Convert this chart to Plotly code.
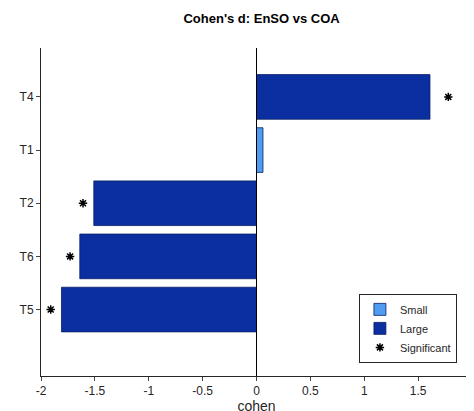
import plotly.graph_objects as go

cats = ["T5", "T6", "T2", "T1", "T4"]
cohen = [-1.81, -1.64, -1.51, 0.06, 1.61]
size = ["Large", "Large", "Large", "Small", "Large"]
sig_pos = [-1.91, -1.73, -1.61, None, 1.78]

ypos = list(range(1, len(cats) + 1))
colors = {"Small": "#4f9cf0", "Large": "#0b2fa0"}

fig = go.Figure()
for s in ["Small", "Large"]:
    ys = [y for y, k in zip(ypos, size) if k == s]
    xs = [c for c, k in zip(cohen, size) if k == s]
    fig.add_trace(go.Bar(
        x=xs, y=ys, orientation="h", width=0.84, name=s,
        marker=dict(color=colors[s], line=dict(color="#0a1f66", width=0.8)),
    ))
sx = [p for p in sig_pos if p is not None]
sy = [y for y, p in zip(ypos, sig_pos) if p is not None]
fig.add_trace(go.Scatter(
    x=sx, y=sy, mode="markers", name="Significant",
    marker=dict(symbol="asterisk-open", size=7, color="black",
                line=dict(color="black", width=1.5)),
))
fig.add_trace(go.Scatter(
    x=[0, 0], y=[-0.25, 5.92], mode="lines", line=dict(color="black", width=1),
    showlegend=False, hoverinfo="skip",
))

fig.update_layout(
    width=474, height=411,
    margin=dict(l=33, r=10, t=40, b=43),
    paper_bgcolor="white", plot_bgcolor="white",
    font=dict(family="Liberation Sans, Arial", size=12, color="#262626"),
    title=dict(text="<b>Cohen's d: EnSO vs COA</b>", x=0.535, xanchor="center",
               y=0.985, yanchor="top", font=dict(size=13, color="black")),
    showlegend=True,
    legend=dict(x=0.965, y=0.04, xanchor="right", yanchor="bottom",
                bordercolor="#262626", borderwidth=1, bgcolor="white",
                font=dict(size=11), traceorder="normal"),
    xaxis=dict(range=[-2, 2], tickvals=[-2, -1.5, -1, -0.5, 0, 0.5, 1, 1.5, 2],
               ticktext=["-2", "-1.5", "-1", "-0.5", "0", "0.5", "1", "1.5", "2"],
               showline=True, linecolor="#262626", ticks="outside", ticklen=4,
               showgrid=False, zeroline=False, automargin=False,
               title=dict(text="cohen", standoff=0)),
    yaxis=dict(range=[-0.25, 5.92], tickvals=ypos, ticktext=cats,
               showline=True, linecolor="#262626", ticks="outside", ticklen=4,
               showgrid=False, zeroline=False, automargin=False),
)
fig.write_html("out.html")
